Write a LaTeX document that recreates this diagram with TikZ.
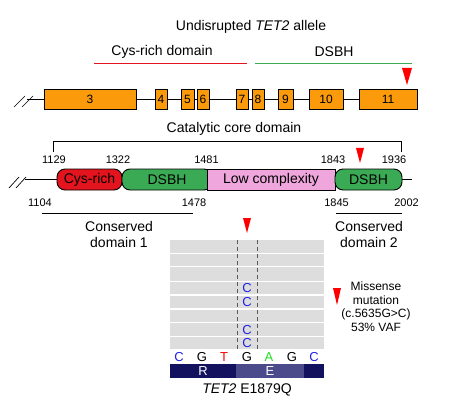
\documentclass[tikz,border=0pt]{standalone}
\usepackage{fontspec}
\setmainfont{Liberation Sans}
\definecolor{exonor}{HTML}{FB9B0B}
\definecolor{cysred}{HTML}{E3141E}
\definecolor{dsbhgr}{HTML}{3BAA55}
\definecolor{lowpk}{HTML}{EFA6DC}
\definecolor{rowgr}{HTML}{DDDDDD}
\definecolor{navyd}{HTML}{12125F}
\definecolor{navyl}{HTML}{4B4B8B}
\definecolor{baseb}{HTML}{2222E6}
\definecolor{basea}{HTML}{22DD22}
\definecolor{trired}{HTML}{FF0000}
\newcommand\fsz[1]{\fontsize{#1}{#1}\selectfont}
\begin{document}
\begin{tikzpicture}[x=1pt,y=-1pt,
  exon/.style={draw=black, fill=exonor, line width=0.9pt, minimum height=20pt, inner sep=0pt, outer sep=0pt, font=\fsz{12}},
  dom/.style={draw=black, line width=0.9pt, minimum height=21pt, inner sep=0pt, outer sep=0pt, font=\fsz{14}},
  rdom/.style={dom, rounded corners=8pt},
  num/.style={font=\fsz{11}, inner sep=0pt},
  lbl/.style={font=\fsz{14}, inner sep=0pt},
  small/.style={font=\fsz{12}, inner sep=0pt},
  base/.style={font=\fsz{13}, inner sep=0pt},
  conn/.style={line width=0.9pt},
  tri/.style={fill=trired},
  domline/.style={line width=0.9pt}]
\useasboundingbox (0,0) rectangle (457,406);

% ---- top: undisrupted allele ----
\node[lbl] (title) at (251,27) {Undisrupted \textit{TET2} allele};
\node[lbl] (cyslab) at (162,52) {Cys-rich domain};
\node[lbl] (dsbhlab) at (334,52) {DSBH};
\draw[domline, cysred] (94,63) -- (247,63);
\draw[domline, dsbhgr] (255,63) -- (412,63);
\fill[tri] (402,68) -- (412,68) -- (407,85) -- cycle;

\node[exon, minimum width=92pt] (e3) at (90,99) {3};
\node[exon, minimum width=12pt] (e4) at (161,99) {4};
\node[exon, minimum width=13pt] (e5) at (187.5,99) {5};
\node[exon, minimum width=12pt] (e6) at (203,99) {6};
\node[exon, minimum width=12pt] (e7) at (242,99) {7};
\node[exon, minimum width=12pt] (e8) at (258,99) {8};
\node[exon, minimum width=15pt] (e9) at (285.5,99) {9};
\node[exon, minimum width=34pt] (e10) at (326,99) {10};
\node[exon, minimum width=58pt] (e11) at (388,99) {11};
\coordinate (s1) at (27,99);
\draw[conn] (s1) -- (e3.west);
\draw[conn] (e3.east) -- (e4.west);
\draw[conn] (e4.east) -- (e5.west);
\draw[conn] (e5.east) -- (e6.west);
\draw[conn] (e6.east) -- (e7.west);
\draw[conn] (e7.east) -- (e8.west);
\draw[conn] (e8.east) -- (e9.west);
\draw[conn] (e9.east) -- (e10.west);
\draw[conn] (e10.east) -- (e11.west);
\draw[line width=0.7pt] (14,107) -- (25,96);
\draw[line width=0.7pt] (22,107) -- (33,96);

% ---- catalytic core ----
\node[lbl] (cat) at (234,129) {Catalytic core domain};
\draw[line width=0.7pt] (53,152) -- (53,141) -- (401,141) -- (401,152);
\node[num] at (54,160) {1129};
\node[num] at (118,160) {1322};
\node[num] at (206.5,160) {1481};
\node[num] at (333,160) {1843};
\node[num] at (394,160) {1936};
\fill[tri] (356,148) -- (364,148) -- (360,163) -- cycle;

\node[rdom, fill=cysred, minimum width=65pt] (cys) at (89.5,179.5) {Cys-rich};
\node[rdom, fill=dsbhgr, minimum width=90pt] (d1) at (167,179.5) {DSBH};
\node[dom, fill=lowpk, minimum width=128pt] (low) at (271,179.5) {Low complexity};
\node[rdom, fill=dsbhgr, minimum width=67pt] (d2) at (368.5,179.5) {DSBH};
\coordinate (s2) at (25,179.5);
\coordinate (e2) at (412,179.5);
\draw[conn] (s2) -- (cys.west);
\draw[conn] (d2.east) -- (e2);
\draw[line width=0.7pt] (9,188) -- (19,177);
\draw[line width=0.7pt] (16,188) -- (26,177);

\node[num] at (40,202.5) {1104};
\node[num] at (194,202.5) {1478};
\node[num] at (336.5,202.5) {1845};
\node[num] at (406.5,202.5) {2002};
\draw[line width=0.7pt] (42,213) -- (193,213);
\draw[line width=0.7pt] (336,213) -- (402,213);
\node[lbl, align=center] (cd1) at (119,234) {Conserved\\[2pt]domain 1};
\node[lbl, align=center] (cd2) at (369,234) {Conserved\\[2pt]domain 2};

% ---- sequence panel ----
\fill[tri] (243,218) -- (251,218) -- (247,233) -- cycle;
\fill[rowgr] (170,240) rectangle (324,349);
\foreach \yy in {253.3,266.7,281.7,295,309,322.3,336.7}
  \draw[white, line width=1.4pt] (170,\yy) -- (324,\yy);
\draw[gray!70!black, line width=0.8pt, dash pattern=on 4pt off 3pt] (237.3,240) -- (237.3,349);
\draw[gray!70!black, line width=0.8pt, dash pattern=on 4pt off 3pt] (257.3,240) -- (257.3,349);
\foreach \yy in {288.5,302.5,330,343}
  \node[base, text=baseb] at (247,\yy) {C};

\node[base, text=baseb] at (179,357) {C};
\node[base] at (202,357) {G};
\node[base, text=red] at (224,357) {T};
\node[base] at (247,357) {G};
\node[base, text=basea] at (269,357) {A};
\node[base] at (292,357) {G};
\node[base, text=baseb] at (314,357) {C};

\fill[navyd] (170,364) rectangle (236,378);
\fill[navyl] (236,364) rectangle (304,378);
\fill[navyd] (304,364) rectangle (324,378);
\node[base, text=white] at (203,371) {R};
\node[base, text=white] at (270,371) {E};
\node[lbl] (mut) at (247,390) {\textit{TET2} E1879Q};

% ---- missense legend ----
\fill[tri] (333,288) -- (341,288) -- (337,305) -- cycle;
\node[small, align=center] (miss) at (376,306.5) {Missense\\[1.5pt]mutation\\[1.5pt](c.5635G>C)\\[1.5pt]53\% VAF};
\end{tikzpicture}
\end{document}
